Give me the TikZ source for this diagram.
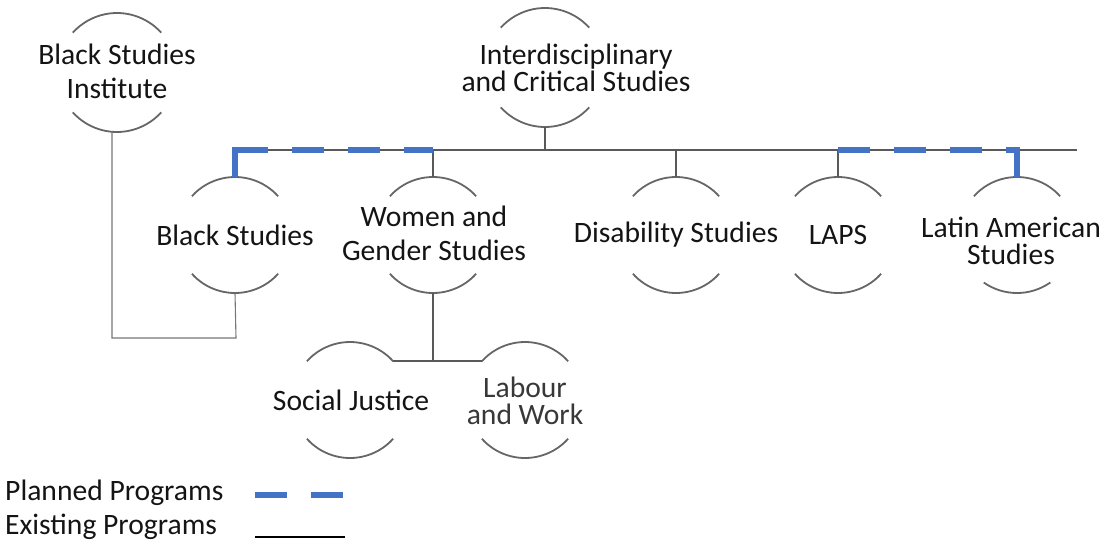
\documentclass[tikz,border=0pt]{standalone}
\usepackage{fontspec}
\setmainfont{Carlito}
\definecolor{ringgray}{HTML}{666666}
\definecolor{linegray}{HTML}{595959}
\definecolor{thingray}{HTML}{777777}
\definecolor{plannedblue}{HTML}{4472C4}
\definecolor{ink}{HTML}{141414}
\definecolor{softink}{HTML}{383838}
\begin{document}
\begin{tikzpicture}[x=1pt,y=-1pt,
  hub/.style={circle, minimum size=116pt, inner sep=0pt, outer sep=0pt},
  bighub/.style={circle, minimum size=119pt, inner sep=0pt, outer sep=0pt},
  ring/.style={draw=ringgray, line width=1.8pt},
  lbl/.style={font=\fontsize{29.6}{34}\selectfont, align=center, text=ink, inner sep=0pt},
  lbltight/.style={font=\fontsize{29.6}{27}\selectfont, align=center, text=ink, inner sep=0pt},
  existing/.style={draw=linegray, line width=1.8pt},
  link/.style={draw=thingray, line width=1.1pt},
  planned/.style={draw=plannedblue, line width=6pt}
]
\useasboundingbox (0,0) rectangle (1102,542);

% half-open rings: an arc above and an arc below each label
\newcommand{\ringarcs}[2]{%
  \draw[ring] (#1.42) arc[start angle=42, end angle=138, radius=#2];
  \draw[ring] (#1.222) arc[start angle=222, end angle=318, radius=#2];}

% ring outlines
\node[bighub] (bsi) at (117,72.5) {};
\node[bighub] (ics) at (545,67.5) {};
\node[hub] (bs)   at (235,235) {};
\node[hub] (wgs)  at (433,235) {};
\node[hub] (ds)   at (676,235) {};
\node[hub] (laps) at (838,235) {};
\node[hub] (las)  at (1017,235) {};
\node[hub] (sj)   at (350,400) {};
\node[hub] (lw)   at (525,400) {};

\ringarcs{bsi}{59.5pt}
\ringarcs{ics}{59.5pt}
\ringarcs{bs}{58pt}
\ringarcs{wgs}{58pt}
\ringarcs{ds}{58pt}
\ringarcs{laps}{58pt}
\ringarcs{sj}{58pt}
\ringarcs{lw}{58pt}
\draw[ring] (las.42) arc[start angle=42, end angle=138, radius=58pt];
\draw[ring] (las.235) arc[start angle=235, end angle=305, radius=58pt];

% labels
\node[lbl] (bsiT) at (117,71) {Black Studies\\Institute};
\node[lbltight] (icsT) at (576,68) {Interdisciplinary\\and Critical Studies};
\node[lbl] (bsT) at (235,235) {Black Studies};
\node[lbl] (wgsT) at (434,233) {Women and\\Gender Studies};
\node[lbl] (dsT) at (676,235) {Disability Studies};
\node[lbl] (lapsT) at (838,235) {LAPS};
\node[lbltight] (lasT) at (1011,241) {Latin American\\Studies};
\node[lbl] (sjT) at (351,400) {Social Justice};
\node[lbltight, text=softink] (lwT) at (525,401) {Labour\\and Work};

% existing program links
\coordinate (busL) at (235,150);
\coordinate (busR) at (1077,150);
\coordinate (bend) at (236,338);
\draw[existing] (busL) -- (busR);
\draw[existing] (ics.south) -- (ics.south |- busL);
\draw[existing] (wgs.north) -- (wgs.north |- busL);
\draw[existing] (ds.north) -- (ds.north |- busL);
\draw[existing] (laps.north) -- (laps.north |- busL);
\draw[existing] (wgs.south) -- (wgs.south |- sj.42);
\draw[existing] (sj.42) -- (lw.138);
\draw[link] ([xshift=-5pt]bsi.south) |- (bend) -- (bs.south);

% planned program links
\draw[planned, dash pattern=on 60pt off 24pt on 32pt off 24pt on 32pt off 24pt on 34pt off 24pt]
  (bs.north) |- (wgs.north |- busL);
\draw[planned, dash pattern=on 32pt off 24pt on 32pt off 24pt on 32pt off 24pt on 60pt]
  (laps.north |- busL) -| (las.north);

% legend
\node[lbl, anchor=west] (legP) at (5,493) {Planned Programs};
\node[lbl, anchor=west] (legE) at (5,527) {Existing Programs};
\coordinate (pA) at (255,495);
\coordinate (pB) at (343,495);
\coordinate (eA) at (255,537);
\coordinate (eB) at (345,537);
\draw[planned, dash pattern=on 32pt off 24pt] (pA) -- (pB);
\draw[black, line width=2.4pt] (eA) -- (eB);
\end{tikzpicture}
\end{document}
